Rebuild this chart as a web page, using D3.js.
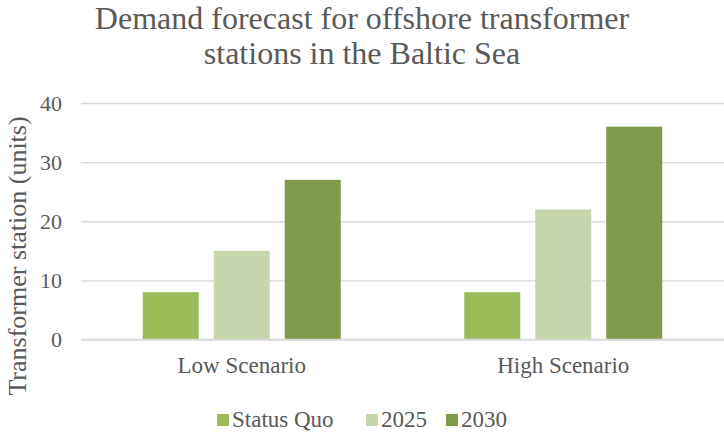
<!DOCTYPE html>
<html>
<head>
<meta charset="utf-8">
<script src="https://cdn.jsdelivr.net/npm/d3@7/dist/d3.min.js"></script>
<style>
  html, body { margin: 0; padding: 0; background: #fff; }
  svg { display: block; }
  text { font-family: "Liberation Serif", "Times New Roman", serif; fill: #595959; }
</style>
</head>
<body>
<svg id="chart" width="724" height="434"></svg>
<script>
// Scenario groups along the x axis
const categories = ["Low Scenario", "High Scenario"];
// Series shown in each group
const seriesNames = ["Status Quo", "2025", "2030"];
// Number of transformer stations per series, one value per scenario
const statusQuo = [8, 8];
const y2025 = [15, 22];
const y2030 = [27, 36];
const yTicks = [0, 10, 20, 30, 40];
const titleLines = ["Demand forecast for offshore transformer", "stations in the Baltic Sea"];
const yTitle = "Transformer station (units)";

const seriesValues = [statusQuo, y2025, y2030];
const colors = ["#9bbb59", "#c7d6ad", "#7f9b4a"];

const svg = d3.select("#chart");
const W = 724, H = 434;
const plot = { left: 81, right: 724, top: 103, bottom: 339.5 };

const x0 = d3.scaleBand().domain(categories).range([plot.left, plot.right]).padding(0);
const x1 = d3.scaleBand().domain(seriesNames).range([0, x0.bandwidth()])
  .paddingInner(0.211).paddingOuter(0.87);
const y = d3.scaleLinear().domain([0, 40]).range([plot.bottom, plot.top]);

// Title
svg.append("g").selectAll("text").data(titleLines).join("text")
  .attr("x", W / 2).attr("y", (d, i) => 29 + i * 35)
  .attr("text-anchor", "middle")
  .style("font-size", "32px")
  .text(d => d);

// Horizontal gridlines
const yAxis = d3.axisLeft(y).tickValues(yTicks).tickSize(-(plot.right - plot.left)).tickPadding(19);
const gy = svg.append("g").attr("transform", `translate(${plot.left},0)`).call(yAxis);
gy.select(".domain").remove();
gy.selectAll(".tick line").attr("stroke", "#d9d9d9").attr("stroke-width", 1.3);
gy.selectAll(".tick text").style("font-size", "22px").attr("fill", "#595959")
  .attr("font-family", "Liberation Serif, serif");

// Bars
const rows = [];
categories.forEach((c, ci) => {
  seriesNames.forEach((s, si) => rows.push({ cat: c, series: s, value: seriesValues[si][ci], color: colors[si] }));
});
svg.append("g").selectAll("rect").data(rows).join("rect")
  .attr("x", d => x0(d.cat) + x1(d.series))
  .attr("width", x1.bandwidth())
  .attr("y", d => y(d.value))
  .attr("height", d => y(0) - y(d.value))
  .attr("fill", d => d.color);

// Redraw the zero baseline on top of the bars
svg.append("line")
  .attr("x1", plot.left).attr("x2", plot.right)
  .attr("y1", y(0)).attr("y2", y(0))
  .attr("stroke", "#d9d9d9").attr("stroke-width", 1.3);

// Category labels
const xAxis = d3.axisBottom(x0).tickSize(0).tickPadding(17);
const gx = svg.append("g").attr("transform", `translate(0,${plot.bottom})`).call(xAxis);
gx.select(".domain").remove();
gx.selectAll(".tick text").style("font-size", "23px").attr("fill", "#595959")
  .attr("font-family", "Liberation Serif, serif");

// Y axis title
svg.append("text")
  .attr("transform", `translate(26,256) rotate(-90)`)
  .attr("text-anchor", "middle")
  .style("font-size", "26px")
  .text(yTitle);

// Legend
const legendItems = [
  { name: seriesNames[0], color: colors[0], x: 217 },
  { name: seriesNames[1], color: colors[1], x: 366 },
  { name: seriesNames[2], color: colors[2], x: 446 }
];
const lg = svg.append("g").selectAll("g").data(legendItems).join("g")
  .attr("transform", d => `translate(${d.x},414)`);
lg.append("rect").attr("width", 12).attr("height", 12).attr("fill", d => d.color);
lg.append("text").attr("x", 15).attr("y", 13).style("font-size", "23px").text(d => d.name);
</script>
</body>
</html>
